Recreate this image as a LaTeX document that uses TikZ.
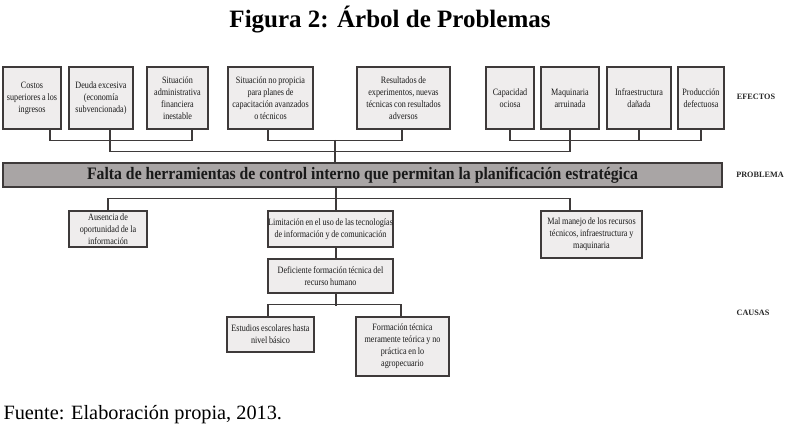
\documentclass[tikz,border=0pt]{standalone}
\usepackage{fontspec}
\setmainfont{Liberation Serif}
\newfontfamily\condfont[FakeStretch=0.84,WordSpace=0.85]{Liberation Serif}
\newfontfamily\barfont[FakeStretch=0.9]{Liberation Serif}
\usetikzlibrary{calc}
\definecolor{boxfill}{HTML}{EFEDED}
\definecolor{boxline}{HTML}{3E3A3A}
\definecolor{barfill}{HTML}{A9A5A5}
\tikzset{
  box/.style={draw=boxline, line width=1.3pt, fill=boxfill, inner sep=0pt,
    align=center, font=\condfont\fontsize{9.7}{12}\selectfont, text=black!90},
  conn/.style={draw=boxline, line width=1.3pt},
  side/.style={font=\bfseries\fontsize{8.2}{9}\selectfont, text=black!85}
}
\newcommand{\bx}[6]{\node[box, minimum width=#3pt, minimum height=#4pt] (#1) at (#5,#6) {#2};}
\begin{document}
\begin{tikzpicture}[x=1pt,y=-1pt]
\useasboundingbox (0,0) rectangle (790,430);
\node[font=\bfseries\fontsize{25}{28}\selectfont] (title) at (390,20) {Figura 2: Árbol de Problemas};
% effects
\bx{b1}{Costos\\superiores a los\\ingresos}{58}{62}{32}{98}
\bx{b2}{Deuda excesiva\\(economía\\subvencionada)}{64}{62}{101}{98}
\bx{b3}{Situación\\administrativa\\financiera\\inestable}{61}{62}{177.5}{98}
\bx{b4}{Situación no propicia\\para planes de\\capacitación avanzados\\o técnicos}{85}{62}{270.5}{98}
\bx{b5}{Resultados de\\experimentos, nuevas\\técnicas con resultados\\adversos}{93}{62}{403.5}{98}
\bx{b6}{Capacidad\\ociosa}{48}{62}{510}{98}
\bx{b7}{Maquinaria\\arruinada}{58}{62}{570}{98}
\bx{b8}{Infraestructura\\dañada}{64}{62}{639}{98}
\bx{b9}{Producción\\defectuosa}{46}{62}{701}{98}
\node[side] (ef) at (756,97) {EFECTOS};
% problem
\node[draw=boxline, line width=1.3pt, fill=barfill, minimum width=719pt, minimum height=24pt, inner sep=0pt,
  font=\barfont\bfseries\fontsize{17.5}{19}\selectfont, text=black!90] (prob) at (362.5,175) {Falta de herramientas de control interno que permitan la planificación estratégica};
\node[side] (pl) at (760,175) {PROBLEMA};
% causes
\bx{c1}{Ausencia de\\oportunidad de la\\información}{78}{36}{108}{229}
\bx{c2}{Limitación en el uso de las tecnologías\\de información y de comunicación}{125}{36}{330.5}{229}
\bx{c3}{Mal manejo de los recursos\\técnicos, infraestructura y\\maquinaria}{101}{47}{591.5}{234.5}
\bx{c4}{Deficiente formación técnica del\\recurso humano}{125}{34}{330.5}{276}
\bx{c5}{Estudios escolares hasta\\nivel básico}{87}{35}{270.5}{334.5}
\bx{c6}{Formación técnica\\meramente teórica y no\\práctica en lo\\agropecuario}{93}{59}{402.5}{346.5}
\node[side] (ca) at (753,313) {CAUSAS};
\node[anchor=west, font=\fontsize{20.3}{22}\selectfont] (src) at (0,415) {Fuente: Elaboración propia, 2013.};
% top connectors
\draw[conn] ($(b1.south)+(18,0)$) -- ++(0,11) -| ($(b3.south)+(14.5,0)$);
\draw[conn] ($(b2.south)+(9,0)$) -- ++(0,22) -| (b7.south);
\draw[conn] ($(b4.south)+(-2.5,0)$) -- ++(0,11) -| ($(b5.south)+(-1.5,0)$);
\draw[conn] (b6.south) -- ++(0,11) -| (b9.south);
\draw[conn] (b8.south) -- ++(0,11);
\coordinate (mid) at (335,140);
\draw[conn] (mid) -- (mid |- prob.north);
% bottom connectors
\draw[conn] (prob.south -| 336,0) -- ($(c2.north)+(5.5,0)$);
\draw[conn] (c1.north) -- ++(0,-12) -| ($(c3.north)+(-21.5,0)$);
\draw[conn] ($(c2.south)+(5.5,0)$) -- ($(c4.north)+(5.5,0)$);
\draw[conn] ($(c4.south)+(5.5,0)$) -- ++(0,12) coordinate (bj);
\draw[conn] ($(c5.north)+(-2.5,0)$) -- ++(0,-12) -| ($(c6.north)+(-1.5,0)$);
\end{tikzpicture}
\end{document}
